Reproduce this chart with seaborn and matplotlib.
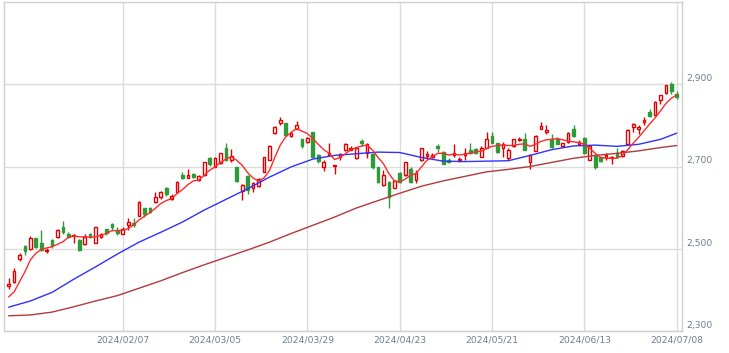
import matplotlib
matplotlib.use('Agg')
import matplotlib.pyplot as plt
import matplotlib.transforms as mtransforms
import seaborn as sns
import numpy as np
import pandas as pd

# daily candles, 2024/01/09 .. 2024/07/08
opens = [2409, 2418, 2474, 2506, 2500, 2525, 2515, 2494, 2521, 2528,
         2553, 2537, 2531, 2521, 2511, 2536, 2515, 2529, 2547, 2559,
         2545, 2537, 2558, 2562, 2580, 2598, 2600, 2613, 2625, 2647,
         2622, 2639, 2679, 2673, 2681, 2667, 2679, 2720, 2699, 2709,
         2744, 2715, 2698, 2640, 2677, 2647, 2652, 2687, 2717, 2782,
         2806, 2805, 2774, 2792, 2767, 2760, 2784, 2728, 2698, 2729,
         2701, 2722, 2740, 2741, 2720, 2762, 2732, 2730, 2698, 2655,
         2663, 2648, 2685, 2679, 2693, 2667, 2715, 2725, 2722, 2750,
         2736, 2717, 2727, 2717, 2728, 2740, 2742, 2724, 2746, 2774,
         2756, 2744, 2720, 2750, 2764, 2768, 2711, 2738, 2792, 2784,
         2768, 2767, 2751, 2760, 2790, 2754, 2770, 2717, 2725, 2722,
         2724, 2720, 2733, 2725, 2754, 2795, 2792, 2809, 2833, 2826,
         2861, 2879, 2900, 2877]
highs = [2430, 2452, 2490, 2508, 2531, 2527, 2545, 2501, 2523, 2547,
         2567, 2541, 2537, 2523, 2537, 2538, 2553, 2539, 2549, 2562,
         2552, 2552, 2574, 2575, 2616, 2600, 2602, 2639, 2640, 2651,
         2634, 2665, 2686, 2693, 2683, 2679, 2711, 2722, 2724, 2734,
         2756, 2742, 2699, 2657, 2679, 2663, 2672, 2724, 2752, 2799,
         2821, 2806, 2784, 2811, 2768, 2772, 2785, 2730, 2715, 2756,
         2703, 2733, 2757, 2749, 2748, 2768, 2756, 2732, 2699, 2691,
         2664, 2667, 2687, 2711, 2699, 2691, 2746, 2738, 2733, 2754,
         2737, 2720, 2754, 2722, 2744, 2758, 2746, 2749, 2784, 2784,
         2758, 2760, 2744, 2768, 2772, 2782, 2730, 2776, 2809, 2801,
         2780, 2772, 2758, 2784, 2801, 2764, 2772, 2751, 2728, 2724,
         2732, 2725, 2746, 2740, 2790, 2806, 2801, 2821, 2839, 2859,
         2875, 2899, 2906, 2883]
lows = [2401, 2416, 2471, 2486, 2497, 2503, 2495, 2489, 2503, 2525,
        2537, 2527, 2515, 2495, 2509, 2525, 2514, 2525, 2533, 2545,
        2533, 2536, 2545, 2552, 2579, 2576, 2587, 2612, 2622, 2629,
        2618, 2637, 2669, 2673, 2671, 2665, 2677, 2702, 2698, 2706,
        2714, 2711, 2663, 2618, 2634, 2639, 2651, 2686, 2715, 2780,
        2801, 2775, 2771, 2791, 2744, 2758, 2720, 2709, 2689, 2728,
        2681, 2717, 2738, 2740, 2718, 2750, 2721, 2695, 2661, 2652,
        2598, 2647, 2659, 2677, 2661, 2659, 2714, 2719, 2720, 2736,
        2706, 2709, 2724, 2712, 2715, 2730, 2730, 2722, 2745, 2756,
        2733, 2724, 2717, 2748, 2762, 2740, 2695, 2737, 2791, 2779,
        2746, 2754, 2750, 2758, 2772, 2752, 2730, 2715, 2693, 2712,
        2716, 2705, 2722, 2724, 2753, 2784, 2780, 2802, 2821, 2824,
        2852, 2877, 2876, 2865]
closes = [2414, 2446, 2485, 2494, 2525, 2505, 2498, 2496, 2509, 2545,
          2541, 2529, 2533, 2497, 2528, 2528, 2552, 2535, 2539, 2554,
          2539, 2549, 2565, 2557, 2613, 2584, 2590, 2625, 2639, 2632,
          2628, 2663, 2673, 2679, 2675, 2677, 2710, 2705, 2720, 2732,
          2717, 2726, 2665, 2656, 2643, 2660, 2669, 2722, 2750, 2795,
          2813, 2776, 2782, 2801, 2750, 2769, 2722, 2714, 2710, 2732,
          2703, 2730, 2754, 2744, 2746, 2756, 2754, 2698, 2663, 2679,
          2625, 2664, 2663, 2710, 2663, 2685, 2744, 2731, 2729, 2746,
          2707, 2711, 2732, 2719, 2733, 2732, 2732, 2746, 2768, 2758,
          2736, 2754, 2741, 2766, 2768, 2741, 2728, 2774, 2798, 2788,
          2748, 2754, 2756, 2782, 2774, 2759, 2732, 2750, 2699, 2714,
          2728, 2724, 2724, 2738, 2788, 2803, 2796, 2814, 2823, 2856,
          2873, 2898, 2884, 2868]

# short moving average (red), one value per candle
ma_short = [2383, 2395, 2420, 2444, 2473, 2489, 2498, 2502, 2505, 2511,
            2517, 2528, 2531, 2529, 2529, 2528, 2529, 2533, 2537, 2544,
            2544, 2545, 2549, 2558, 2570, 2579, 2588, 2598, 2610, 2617,
            2622, 2634, 2644, 2656, 2665, 2667, 2679, 2691, 2699, 2710,
            2718, 2724, 2715, 2703, 2685, 2672, 2664, 2672, 2690, 2722,
            2752, 2772, 2783, 2792, 2786, 2780, 2768, 2754, 2741, 2732,
            2717, 2722, 2731, 2741, 2746, 2750, 2752, 2740, 2722, 2707,
            2683, 2665, 2663, 2669, 2679, 2683, 2699, 2715, 2724, 2732,
            2732, 2728, 2730, 2728, 2730, 2733, 2736, 2737, 2744, 2749,
            2751, 2752, 2751, 2751, 2754, 2755, 2749, 2754, 2761, 2765,
            2766, 2768, 2765, 2762, 2760, 2758, 2754, 2744, 2732, 2722,
            2720, 2720, 2720, 2727, 2741, 2757, 2771, 2787, 2803, 2818,
            2835, 2853, 2866, 2874]

# medium (blue) and long (brown) averages, read every 4th candle
ma_pos = [0, 4, 8, 12, 16, 20, 24, 28, 32, 36, 40, 44, 48, 52, 56, 60,
          64, 68, 72, 76, 80, 84, 88, 92, 96, 100, 104, 108, 112, 116, 120, 123]
ma_mid = [2358, 2373, 2394, 2426, 2456, 2487, 2516, 2540, 2565, 2594, 2620,
          2646, 2674, 2699, 2718, 2727, 2731, 2735, 2734, 2722, 2713, 2712,
          2713, 2714, 2727, 2741, 2750, 2752, 2749, 2754, 2766, 2781]
ma_long = [2337, 2339, 2346, 2359, 2373, 2386, 2404, 2422, 2442, 2461, 2479,
           2497, 2516, 2537, 2557, 2577, 2599, 2617, 2635, 2652, 2665, 2676,
           2687, 2693, 2700, 2710, 2720, 2727, 2732, 2738, 2746, 2751]

tick_pos = [21, 38, 55, 72, 89, 106, 123]
tick_labels = ['2024/02/07', '2024/03/05', '2024/03/29', '2024/04/23',
               '2024/05/21', '2024/06/13', '2024/07/08']
y_ticks = [2300, 2500, 2700, 2900]

sns.set_style('white')
plt.rcParams['font.family'] = ['DejaVu Sans']

up_col = '#e00000'
down_col = '#2e9a3a'
text_col = '#6f7d8c'
grid_col = '#dcdcdc'

df = pd.DataFrame({'open': opens, 'high': highs, 'low': lows, 'close': closes})
df['x'] = np.arange(len(df))
df['up'] = df['close'] >= df['open']

fig = plt.figure(figsize=(7.29, 3.53), dpi=100)
ax = fig.add_axes([4 / 729, 22 / 353, 677.5 / 729, 329 / 353])

# grid
for t in tick_pos:
    ax.axvline(t, color=grid_col, lw=1, zorder=0)
for t in y_ticks:
    ax.axhline(t, color=grid_col, lw=1, zorder=0)

# wicks
wick_cols = [up_col if u else down_col for u in df['up']]
ax.vlines(df['x'], df['low'], df['high'], colors=wick_cols, lw=1, zorder=2)

# bodies
body_bottom = df[['open', 'close']].min(axis=1)
body_h = (df['close'] - df['open']).abs().clip(lower=1.2)
face = ['white' if u else down_col for u in df['up']]
ax.bar(df['x'], body_h, bottom=body_bottom, width=0.5, color=face,
       edgecolor=wick_cols, linewidth=1, zorder=3)

# moving averages
sns.lineplot(x=ma_pos, y=ma_long, ax=ax, color='#b23a3a', lw=1, zorder=4)
sns.lineplot(x=ma_pos, y=ma_mid, ax=ax, color='#3030ff', lw=1, zorder=4)
sns.lineplot(x=df['x'], y=ma_short, ax=ax, color='#ff2a2a', lw=1, zorder=5)

ax.set_xlim(-0.86, 123.88)
ax.set_ylim(2300, 3100)
ax.set_xticks(tick_pos)
ax.set_xticklabels(tick_labels, fontsize=6.6, color=text_col)
ax.tick_params(axis='x', length=0, pad=3)
ax.set_yticks([])
ax.set_xlabel('')
ax.set_ylabel('')

for s in ax.spines.values():
    s.set_color('#d0d0d0')
    s.set_linewidth(1)

trans = mtransforms.blended_transform_factory(ax.transAxes, ax.transData)
trans = mtransforms.offset_copy(trans, fig=fig, x=5, y=3, units='dots')
for t in y_ticks:
    ax.text(1.0, t, f'{t:,}', transform=trans, fontsize=6.6, color=text_col,
            ha='left', va='baseline', clip_on=False)

fig.savefig('out.png', dpi=100)
